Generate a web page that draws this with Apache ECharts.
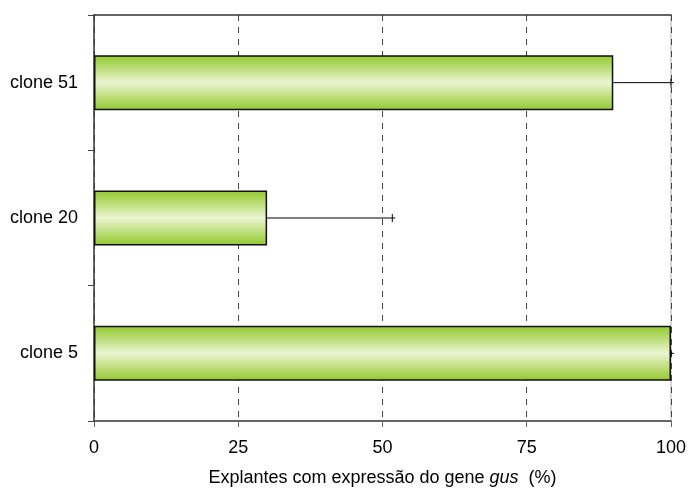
<!DOCTYPE html>
<html>
<head>
<meta charset="utf-8">
<script src="https://cdn.jsdelivr.net/npm/echarts@6/dist/echarts.min.js"></script>
<style>
  html, body { margin: 0; padding: 0; background: #fff; }
  #chart { width: 689px; height: 492px; }
</style>
</head>
<body>
<div id="chart"></div>
<script>
// Clones, bottom to top
var categories = ['clone 5', 'clone 20', 'clone 51'];
// Explants expressing gus (%)
var values = [100, 30, 90];
// Error bar lengths (%)
var errors = [0, 21.7, 10];
// x-axis ticks
var xTicks = [0, 25, 50, 75, 100];

var FONT = '"Liberation Sans", Arial, sans-serif';
var FS = 18;

var barFill = {
  type: 'linear', x: 0, y: 0, x2: 0, y2: 1,
  colorStops: [
    { offset: 0.0, color: '#93c82f' },
    { offset: 0.18, color: '#b2d865' },
    { offset: 0.5, color: '#ebf5d2' },
    { offset: 0.82, color: '#b2d865' },
    { offset: 1.0, color: '#93c82f' }
  ]
};

var errData = categories.map(function (c, i) { return [i, values[i], errors[i]]; });

var chart = echarts.init(document.getElementById('chart'), null, { renderer: 'canvas' });
chart.setOption({
  animation: false,
  grid: { left: 94, right: 17, top: 15, bottom: 68, containLabel: false },
  xAxis: [{
    type: 'value', min: xTicks[0], max: xTicks[xTicks.length - 1], interval: 25,
    axisLine: { show: true, lineStyle: { color: '#333', width: 1.5 } },
    axisTick: { show: true, length: 6, lineStyle: { color: '#666' } },
    axisLabel: { color: '#000', fontFamily: FONT, fontSize: FS, margin: 18 },
    splitLine: { show: true, lineStyle: { color: '#444', type: [6, 6], width: 1 } },
    name: '{n|Explantes com expressão do gene }{i|gus}{n|  (%)}',
    nameLocation: 'middle', nameGap: 48,
    nameTextStyle: {
      rich: {
        n: { fontFamily: FONT, fontSize: FS, color: '#000' },
        i: { fontFamily: FONT, fontSize: FS, color: '#000', fontStyle: 'italic' }
      }
    }
  }, {
    type: 'value', position: 'top', min: 0, max: 100,
    axisLine: { show: true, onZero: false, lineStyle: { color: '#333', width: 1.5 } },
    axisTick: { show: false }, axisLabel: { show: false }, splitLine: { show: false }
  }],
  yAxis: [{
    type: 'category', data: categories,
    axisLine: { show: true, lineStyle: { color: '#333', width: 1.5 } },
    axisTick: { show: true, length: 6, lineStyle: { color: '#444' } },
    axisLabel: { color: '#000', fontFamily: FONT, fontSize: FS, margin: 16 }
  }, {
    type: 'category', data: categories, position: 'right', z: -1,
    axisLine: { show: true, onZero: false, lineStyle: { color: '#c8c8c8', width: 1.5 } },
    axisTick: { show: false }, axisLabel: { show: false }, splitLine: { show: false }
  }],
  series: [{
    type: 'bar', data: values, barWidth: 55,
    itemStyle: { color: barFill, borderColor: '#111', borderWidth: 1.5 }
  }, {
    type: 'custom', data: errData, z: 5,
    renderItem: function (params, api) {
      var cat = api.value(0), v = api.value(1), e = api.value(2);
      var p0 = api.coord([v, cat]);
      var p1 = api.coord([v + e, cat]);
      var cap = 4;
      return {
        type: 'group',
        children: [{
          type: 'line',
          shape: { x1: p0[0], y1: p0[1], x2: p1[0] + 3, y2: p1[1] },
          style: { stroke: '#000', lineWidth: 1 }
        }, {
          type: 'line',
          shape: { x1: p1[0], y1: p1[1] - cap, x2: p1[0], y2: p1[1] + cap },
          style: { stroke: '#000', lineWidth: 1 }
        }]
      };
    }
  }]
});
</script>
</body>
</html>
